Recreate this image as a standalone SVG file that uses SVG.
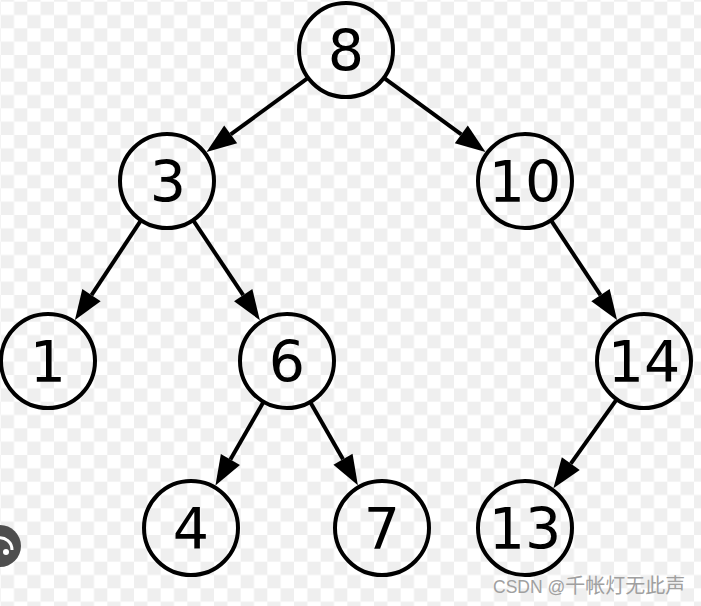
<svg xmlns="http://www.w3.org/2000/svg" width="701" height="606" viewBox="0 0 701 606">
  <defs>
    <pattern id="checker" x="0.67" y="1.67" width="26.667" height="26.667" patternUnits="userSpaceOnUse">
      <rect width="26.667" height="26.667" fill="#ffffff"/>
      <rect x="13.333" y="0" width="13.333" height="13.333" fill="#efefef"/>
      <rect x="0" y="13.333" width="13.333" height="13.333" fill="#efefef"/>
    </pattern>
    <marker id="arrow" markerUnits="userSpaceOnUse" markerWidth="32" markerHeight="24" refX="0" refY="11" orient="auto" overflow="visible">
      <path d="M0,0 L30,11 L0,22 Z" fill="#000"/>
    </marker>
    <style>
      .node circle { fill: none; stroke: #000; stroke-width: 4; }
      .node text { font-family: "DejaVu Sans", "Liberation Sans", sans-serif; font-size: 57px; text-anchor: middle; fill: #000; }
      .edge { stroke: #000; stroke-width: 4; fill: none; marker-end: url(#arrow); }
      .wm { font-family: "Liberation Sans", "Noto Sans CJK SC", sans-serif; fill: #a0a0a0; }
    </style>
  </defs>

  <rect width="701" height="606" fill="url(#checker)"/>

  <g id="connectors">
    <line class="edge" x1="308.1" y1="77.8" x2="230.7" y2="134.4"/>
    <line class="edge" x1="383.9" y1="77.8" x2="461.3" y2="134.4"/>
    <line class="edge" x1="141.1" y1="220.2" x2="91.5" y2="295.1"/>
    <line class="edge" x1="193.1" y1="220.1" x2="243.2" y2="295.2"/>
    <line class="edge" x1="550.9" y1="220.2" x2="600.5" y2="295.1"/>
    <line class="edge" x1="263.6" y1="401.7" x2="230.4" y2="459.5"/>
    <line class="edge" x1="310.2" y1="401.9" x2="343.0" y2="459.3"/>
    <line class="edge" x1="616.7" y1="399.3" x2="570.8" y2="463.7"/>
  </g>

  <g id="node-8" class="node"><circle cx="346" cy="50" r="47"/><text x="346" y="71">8</text></g>
  <g id="node-3" class="node"><circle cx="167" cy="181" r="47"/><text x="168" y="202">3</text></g>
  <g id="node-10" class="node"><circle cx="525" cy="181" r="47"/><text x="525" y="202">10</text></g>
  <g id="node-1" class="node"><circle cx="48" cy="361" r="47"/><text x="48" y="382">1</text></g>
  <g id="node-6" class="node"><circle cx="287" cy="361" r="47"/><text x="287" y="382">6</text></g>
  <g id="node-14" class="node"><circle cx="644" cy="361" r="47"/><text x="644" y="382">14</text></g>
  <g id="node-4" class="node"><circle cx="191" cy="528" r="47"/><text x="191" y="549">4</text></g>
  <g id="node-7" class="node"><circle cx="382" cy="528" r="47"/><text x="382" y="549">7</text></g>
  <g id="node-13" class="node"><circle cx="525" cy="528" r="47"/><text x="525" y="549">13</text></g>

  <g id="overlay-icon">
    <circle cx="0" cy="546" r="21" fill="#4e4e4e"/>
    <circle cx="6" cy="552" r="3" fill="#ffffff"/>
    <path d="M-2,538 A12,12 0 0 1 12,550" fill="none" stroke="#ffffff" stroke-width="3"/>
  </g>

  <text class="wm" x="493" y="593" font-size="17.5">CSDN @<tspan font-size="20">千帐灯无此声</tspan></text>
</svg>
